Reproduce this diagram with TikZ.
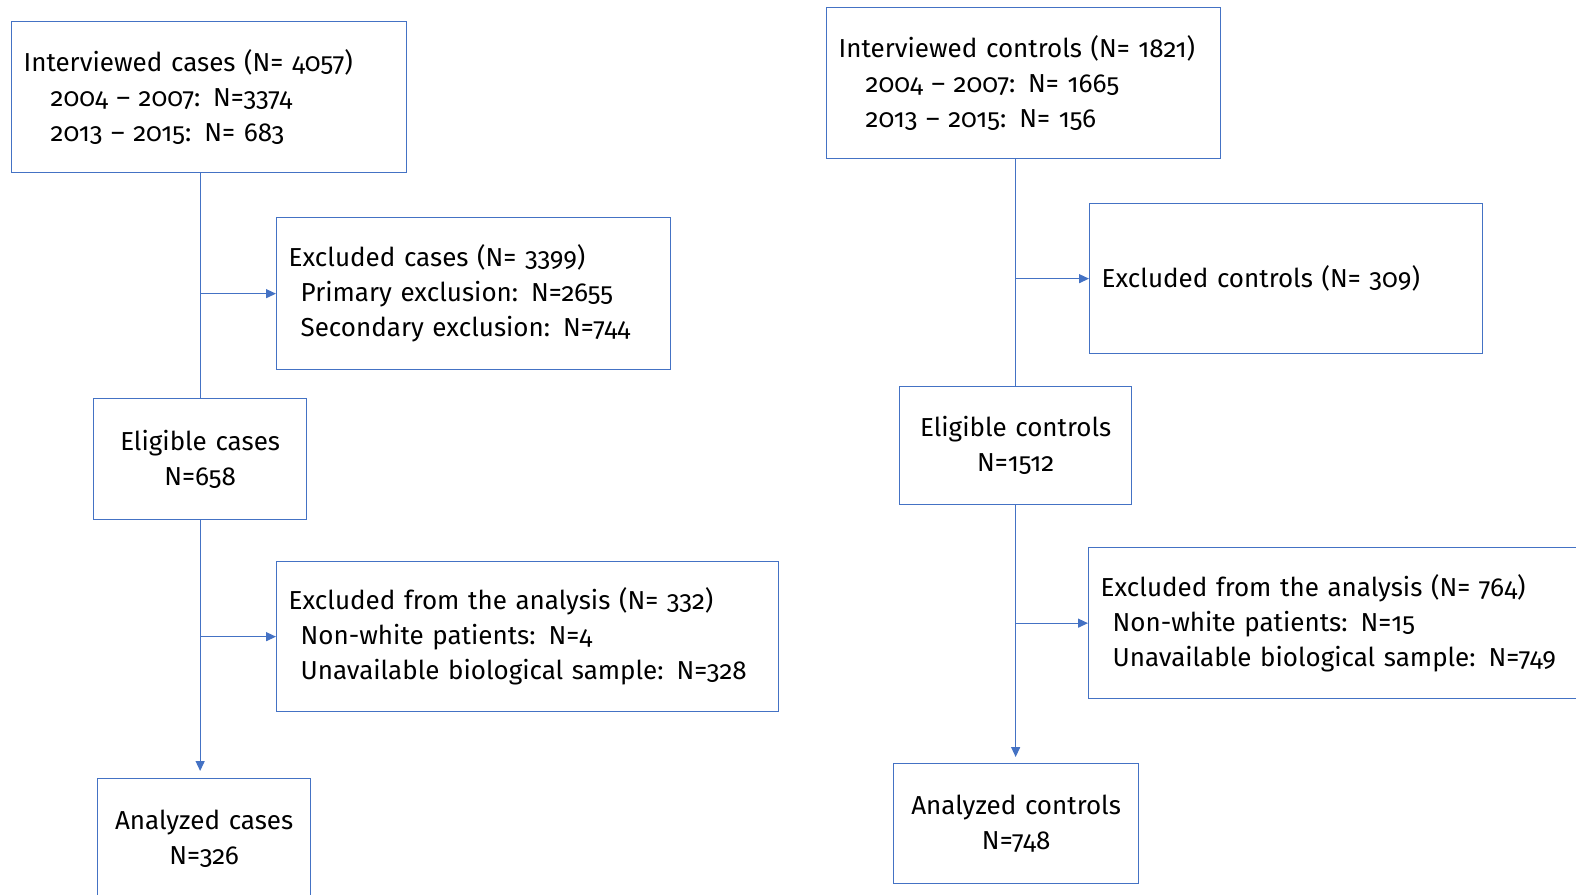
\documentclass[tikz,border=0pt]{standalone}
\usepackage{fontspec}
\setmainfont{Fira Sans}[Numbers=OldStyle]
\usetikzlibrary{arrows.meta}
\definecolor{boxblue}{RGB}{68,114,196}
\tikzset{
  box/.style={draw=boxblue, line width=1.3pt, anchor=north west, inner xsep=12pt,
    align=left, font=\fontsize{26}{35}\selectfont},
  link/.style={draw=boxblue, line width=1.3pt},
  arrow/.style={link, -{Triangle[length=10pt,width=9pt]}}
}
\newcommand{\ind}[1]{\hspace*{#1pt}}
\begin{document}
\begin{tikzpicture}[x=1pt, y=-1pt]
  \useasboundingbox (0,0) rectangle (1576,894);
  % cases
  \node[box, text width=371pt, minimum height=151pt] (intcases) at (11,21)
    {Interviewed cases (N= 4057)\\ \ind{27}2004 -- 2007: N=3374\\ \ind{27}2013 -- 2015: N= 683};
  \node[box, text width=370pt, minimum height=152pt] (exccases) at (276,217)
    {Excluded cases (N= 3399)\\ \ind{12}Primary exclusion: N=2655\\ \ind{12}Secondary exclusion: N=744};
  \node[box, align=center, text width=189pt, minimum height=121pt] (elicases) at (93,398)
    {Eligible cases\\ N=658};
  \node[box, text width=478pt, minimum height=150pt] (excana) at (276,561)
    {Excluded from the analysis (N= 332)\\ \ind{12}Non-white patients: N=4\\ \ind{12}Unavailable biological sample: N=328};
  \node[box, align=center, text width=189pt, minimum height=120pt] (anacases) at (97,778)
    {Analyzed cases\\ N=326};
  \draw[link] (elicases.north |- intcases.south) -- (elicases.north);
  \draw[arrow] (elicases.north |- exccases.west) -- (exccases.west);
  \draw[arrow] (elicases.south |- excana.west) -- (excana.west);
  \draw[arrow, shorten >=7pt] (elicases.south) -- (elicases.south |- anacases.north);
  % controls
  \node[box, text width=370pt, minimum height=151pt] (intctrl) at (826,7)
    {Interviewed controls (N= 1821)\\ \ind{27}2004 -- 2007: N= 1665\\ \ind{27}2013 -- 2015: N= 156};
  \node[box, text width=369pt, minimum height=150pt] (excctrl) at (1089,203)
    {Excluded controls (N= 309)};
  \node[box, align=center, text width=208pt, minimum height=118pt] (elictrl) at (899,386)
    {Eligible controls\\ N=1512};
  \node[box, text width=480pt, minimum height=151pt] (excanactrl) at (1088,547)
    {Excluded from the analysis (N= 764)\\ \ind{12}Non-white patients: N=15\\ \ind{12}Unavailable biological sample: N=749};
  \node[box, align=center, text width=221pt, minimum height=120pt] (anactrl) at (893,763)
    {Analyzed controls\\ N=748};
  \draw[link] (elictrl.north |- intctrl.south) -- (elictrl.north);
  \draw[arrow] (elictrl.north |- excctrl.west) -- (excctrl.west);
  \draw[arrow] (elictrl.south |- excanactrl.west) -- (excanactrl.west);
  \draw[arrow, shorten >=6pt] (elictrl.south) -- (elictrl.south |- anactrl.north);
\end{tikzpicture}
\end{document}
